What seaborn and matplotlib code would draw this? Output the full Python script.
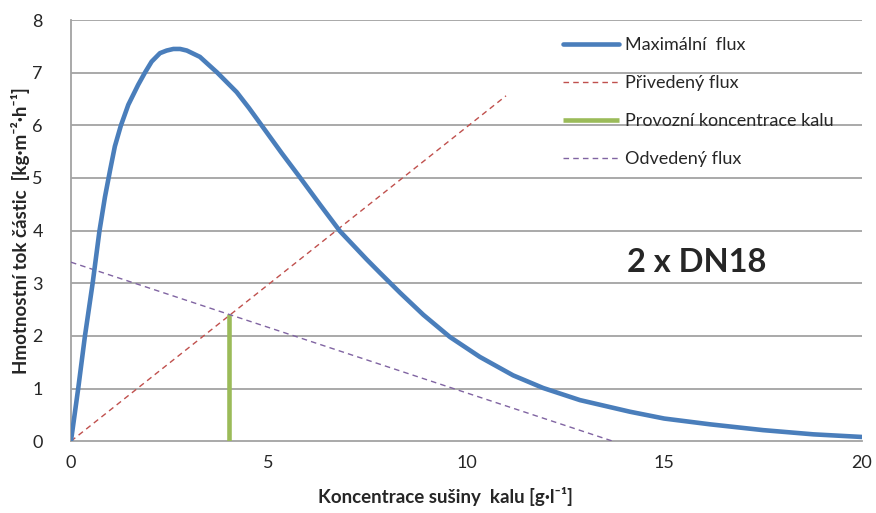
import matplotlib
matplotlib.use("Agg")
import matplotlib.pyplot as plt
import seaborn as sns
import pandas as pd

# Maximum flux curve (read at discrete concentrations)
max_x = [0, 0.185, 0.354, 0.55, 0.72, 0.86, 0.99, 1.11, 1.26, 1.45, 1.70,
         1.87, 2.04, 2.25, 2.42, 2.59, 2.76, 2.93, 3.26, 3.45, 3.70, 4.19,
         4.50, 4.80, 5.33, 5.79, 6.30, 6.80, 7.48, 7.81, 8.32, 8.91, 9.58,
         10.34, 11.18, 11.94, 12.87, 14.13, 15.0, 16.16, 17.5, 18.77, 20.0]
max_y = [0, 1.01, 2.0, 3.01, 3.99, 4.64, 5.15, 5.6, 5.99, 6.39, 6.77,
         7.0, 7.21, 7.37, 7.42, 7.45, 7.45, 7.42, 7.30, 7.17, 7.0, 6.63,
         6.33, 6.02, 5.47, 5.01, 4.49, 3.99, 3.45, 3.20, 2.82, 2.40, 1.98,
         1.60, 1.25, 1.01, 0.78, 0.56, 0.43, 0.32, 0.21, 0.13, 0.08]

# Supplied flux (straight line)
supplied_x = [0, 11.0]
supplied_y = [0, 6.56]

# Operating sludge concentration
operating_x = [4.0, 4.0]
operating_y = [0, 2.41]

# Withdrawn flux (straight line)
withdrawn_x = [0, 13.7]
withdrawn_y = [3.4, 0]

x_ticks = [0, 5, 10, 15, 20]
y_ticks = [0, 1, 2, 3, 4, 5, 6, 7, 8]

sns.set_style("white")
plt.rcParams["font.family"] = ["Lato", "DejaVu Sans"]

fig = plt.figure(figsize=(8.76, 5.13), dpi=100)
ax = fig.add_axes([0.081, 0.140, 0.903, 0.821])

grid_col = "#a3a3a3"
for y in y_ticks[1:]:
    ax.axhline(y, color=grid_col, lw=1.3, zorder=0)

df_max = pd.DataFrame({"x": max_x, "y": max_y})
df_sup = pd.DataFrame({"x": supplied_x, "y": supplied_y})
df_op = pd.DataFrame({"x": operating_x, "y": operating_y})
df_wd = pd.DataFrame({"x": withdrawn_x, "y": withdrawn_y})

sns.lineplot(data=df_max, x="x", y="y", ax=ax, color="#4a7ebb", lw=3.3,
             sort=False, estimator=None, label="Maximální  flux",
             solid_capstyle="round", solid_joinstyle="round", zorder=4)
sns.lineplot(data=df_sup, x="x", y="y", ax=ax, color="#c0504d", lw=1.0,
             sort=False, estimator=None, label="Přivedený flux",
             linestyle=(0, (4, 3)), zorder=3)
sns.lineplot(data=df_op, x="x", y="y", ax=ax, color="#9bbb59", lw=3.3,
             sort=False, estimator=None, label="Provozní koncentrace kalu",
             solid_capstyle="butt", zorder=3)
sns.lineplot(data=df_wd, x="x", y="y", ax=ax, color="#8064a2", lw=1.0,
             sort=False, estimator=None, label="Odvedený flux",
             linestyle=(0, (4, 3)), zorder=3)

ax.set_xlim(0, 20)
ax.set_ylim(0, 8)
ax.set_xticks(x_ticks)
ax.set_yticks(y_ticks)
ax.tick_params(axis="x", direction="out", length=5, width=1, color=grid_col,
               labelsize=13, pad=5)
ax.tick_params(axis="y", length=0, labelsize=13, pad=24)
for lab in ax.get_yticklabels():
    lab.set_horizontalalignment("center")

for side in ["top", "right"]:
    ax.spines[side].set_visible(False)
for side in ["left", "bottom"]:
    ax.spines[side].set_color(grid_col)
    ax.spines[side].set_linewidth(1.3)

ax.set_xlabel("Koncentrace sušiny  kalu [g·l⁻¹]", fontsize=13.5,
              fontweight="bold", labelpad=9)
ax.xaxis.set_label_coords(0.474, -0.108)
ax.set_ylabel("Hmotnostní tok částic  [kg·m⁻²·h⁻¹]", fontsize=13.5,
              fontweight="bold", labelpad=2)

ax.text(15.83, 3.4, "2 x DN18", fontsize=23.5, fontweight="bold",
        ha="center", va="center")

leg = ax.legend(loc="upper left", bbox_to_anchor=(0.622, 0.96), frameon=False,
                fontsize=13, handlelength=3.1, labelspacing=1.22,
                handletextpad=0.35, borderpad=0, borderaxespad=0)

fig.savefig("out.png", dpi=100)
